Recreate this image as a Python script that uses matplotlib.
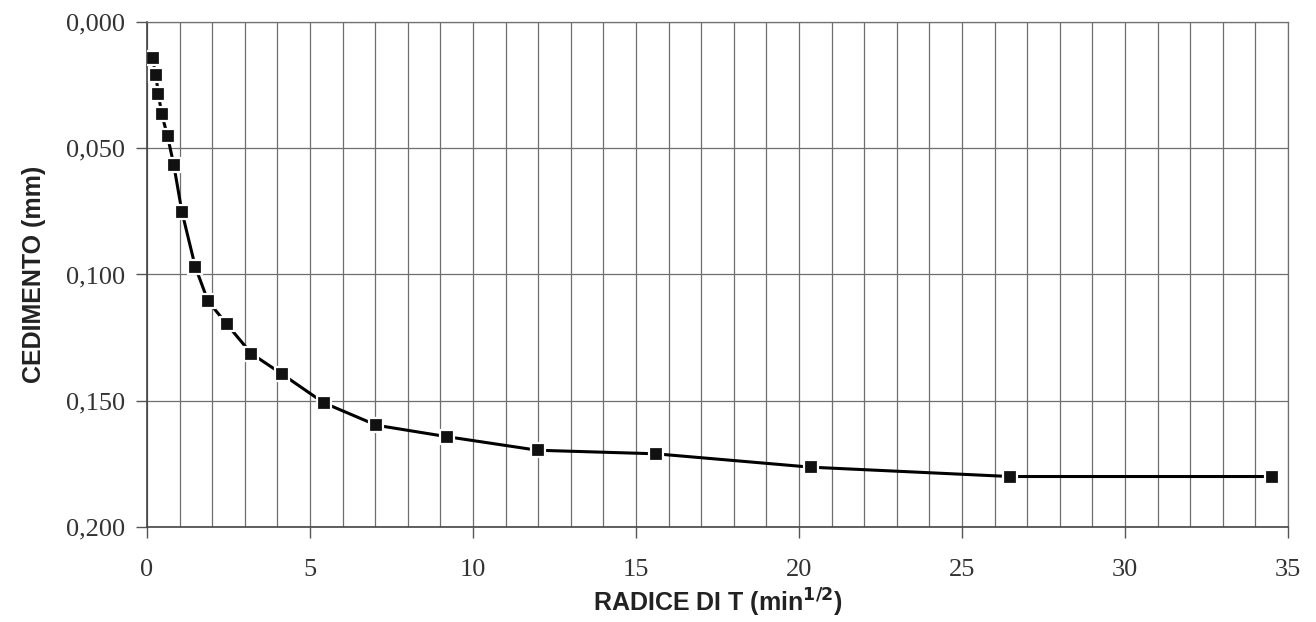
import numpy as np
import matplotlib.pyplot as plt
from matplotlib.ticker import FuncFormatter, MultipleLocator

# radice del tempo (min^1/2) e cedimento (mm)
radice_t = [0.17, 0.27, 0.35, 0.45, 0.63, 0.82, 1.07, 1.48, 1.87, 2.45,
            3.20, 4.15, 5.42, 7.04, 9.19, 11.98, 15.60, 20.36, 26.47, 34.52]
cedimento = [0.0144, 0.0210, 0.0285, 0.0364, 0.0452, 0.0565, 0.0751, 0.0969,
             0.1105, 0.1197, 0.1313, 0.1395, 0.1508, 0.1597, 0.1642, 0.1696,
             0.1710, 0.1763, 0.1800, 0.1800]

x_label = r"RADICE DI T (min$^{\mathbf{1/2}}$)"
y_label = "CEDIMENTO (mm)"

fig = plt.figure(figsize=(13.16, 6.22), dpi=100)
ax = fig.add_axes([0.1117, 0.1527, 0.867, 0.812])

ax.plot(radice_t, cedimento, color="black", linewidth=2.2, marker="s",
        markersize=10, markerfacecolor="#111111", markeredgecolor="white",
        markeredgewidth=1.6, zorder=3)

ax.set_xlim(0, 35)
ax.set_ylim(0.2, 0.0)
ax.xaxis.set_major_locator(MultipleLocator(5))
ax.xaxis.set_minor_locator(MultipleLocator(1))
ax.yaxis.set_major_locator(MultipleLocator(0.05))
ax.yaxis.set_major_formatter(FuncFormatter(lambda v, p: f"{v:.3f}".replace(".", ",")))

ax.grid(which="major", color="#6f6f6f", linewidth=0.9)
ax.grid(which="minor", axis="x", color="#6f6f6f", linewidth=0.9)
ax.tick_params(which="minor", length=0)
ax.tick_params(which="major", length=8, width=1, color="#555555")
ax.tick_params(axis="x", pad=15)
ax.tick_params(axis="y", pad=8)
for lab in ax.get_xticklabels() + ax.get_yticklabels():
    lab.set_family("Liberation Serif")
    lab.set_fontsize(19)
    lab.set_color("#333333")

for s in ["top", "right"]:
    ax.spines[s].set_color("#6f6f6f")
    ax.spines[s].set_linewidth(0.9)
for s in ["left", "bottom"]:
    ax.spines[s].set_color("#444444")
    ax.spines[s].set_linewidth(1.2)

ax.set_xlabel(x_label, family="Liberation Sans", fontweight="bold",
              fontsize=18, color="#222222", labelpad=4)
ax.set_ylabel(y_label, family="Liberation Sans", fontweight="bold",
              fontsize=18, color="#222222", labelpad=14)

plt.savefig("out.png", dpi=100)
